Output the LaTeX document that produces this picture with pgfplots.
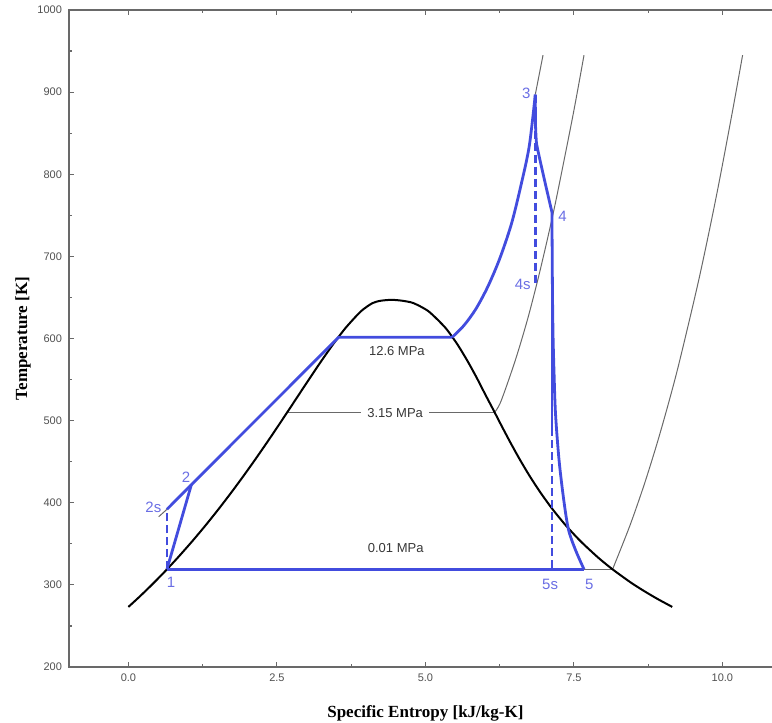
\documentclass[border=0pt]{standalone}
\usepackage{pgfplots}
\pgfplotsset{compat=1.18}
\usepackage{fontspec}
\setmainfont{Liberation Sans}
\newfontfamily\labelfont{Liberation Serif}
\definecolor{cycle}{RGB}{66,76,222}
\definecolor{ptlabel}{RGB}{106,110,228}
\definecolor{isobar}{RGB}{105,105,105}
\definecolor{frame}{RGB}{105,105,105}
\definecolor{ticktext}{RGB}{80,80,80}
\definecolor{ptext}{RGB}{55,55,55}

\begin{document}
\begin{tikzpicture}
\begin{axis}[
  name=ax, at={(0,0)}, anchor=south west,
  scale only axis, width=356.4pt, height=328.5pt,
  xmin=-1, xmax=11, ymin=200, ymax=1000,
  xtick={0,2.5,5,7.5,10}, minor x tick num=1,
  ytick={200,300,...,1000}, minor y tick num=1,
  tick align=inside,
  major tick length=2.5pt, minor tick length=1.5pt,
  axis line style={frame, line width=0.75pt},
  every tick/.style={frame, line width=0.6pt},
  ticklabel style={font=\fontsize{5.5}{6}\selectfont, text=ticktext},
  /pgf/number format/assume math mode=true,
  /pgf/number format/1000 sep={},
  xticklabel style={/pgf/number format/.cd, fixed, fixed zerofill, precision=1},
  xlabel={Specific Entropy [kJ/kg-K]},
  ylabel={Temperature [K]},
  label style={font=\labelfont\bfseries\fontsize{8.5}{10}\selectfont},
  xlabel style={at={(axis description cs:0.5,-0.07)}, anchor=center},
  ylabel style={at={(axis description cs:-0.0645,0.5)}, anchor=center, rotate=0},
]

% isobars (thin grey)
\addplot[isobar, line width=0.5pt] coordinates {(0.6493,318.96) (8.1502,318.96)};
\addplot[isobar, line width=0.5pt, smooth] coordinates {
  (8.1502,318.96) (8.1749,323.15) (8.4479,373.15) (8.6882,423.15) (8.9038,473.15)
  (9.1002,523.15) (9.2813,573.15) (9.6077,673.15) (9.8978,773.15) (10.1608,873.15) (10.34,945)};
\addplot[isobar, line width=0.5pt] coordinates {(2.68,509.6) (6.16,509.6)};
\addplot[isobar, line width=0.5pt, smooth] coordinates {
  (6.16,509.6) (6.27,523.15) (6.512,573.15) (6.719,623.15) (6.898,673.15)
  (7.061,723.15) (7.212,773.15) (7.488,873.15) (7.67,945)};
\addplot[isobar, line width=0.5pt] coordinates {(0.51,383) (0.649,392)};
\addplot[isobar, line width=0.5pt, smooth] coordinates {(6.85,897) (6.915,921) (6.98,945)};

% saturation dome
\addplot[black, line width=1pt, smooth, tension=0.4] coordinates {
  (0,273.16) (0.1511,283.15) (0.2966,293.15) (0.4369,303.15) (0.5725,313.15)
  (0.6493,318.96) (0.8312,333.15) (1.0753,353.15) (1.3069,373.15) (1.5276,393.15)
  (1.7391,413.15) (1.9427,433.15) (2.1396,453.15) (2.3309,473.15) (2.5178,493.15)
  (2.7015,513.15) (2.8838,533.15) (3.0668,553.15) (3.2534,573.15) (3.4480,593.15)
  (3.6594,613.15) (3.9147,633.15) (4.1106,643.15) (4.25,646.0) (4.4298,647.1)
  (4.61,646.0) (4.7971,643.15) (5.0526,633.15) (5.3357,613.15) (5.5362,593.15)
  (5.7045,573.15) (5.8571,553.15) (5.9989,533.15) (6.1437,513.15) (6.2861,493.15)
  (6.4323,473.15) (6.5857,453.15) (6.7502,433.15) (6.9299,413.15) (7.1296,393.15)
  (7.3549,373.15) (7.6122,353.15) (7.9096,333.15) (8.1502,318.96) (8.4520,303.15)
  (8.6672,293.15) (8.9008,283.15) (9.1562,273.16)};

% cycle
\addplot[cycle, line width=1.4pt] coordinates {(0.649,318.96) (7.67,318.96)};
\addplot[cycle, line width=1.4pt] coordinates {(0.649,318.96) (1.06,422)};
\addplot[cycle, line width=1.4pt, dash pattern=on 4pt off 2pt] coordinates {(0.649,318.96) (0.649,392)};
\addplot[cycle, line width=1.4pt] coordinates {(0.649,392) (1.06,422) (3.54,601.5) (5.45,601.5)};
\addplot[cycle, line width=1.4pt, smooth] coordinates {
  (5.45,601.5) (5.65,616) (5.85,636) (6.05,663) (6.25,697) (6.45,740)
  (6.62,790) (6.75,835) (6.85,897)};
\addplot[cycle, line width=1.4pt, smooth, tension=0.3] coordinates {
  (6.85,897) (6.853,862) (6.87,838) (6.93,817) (7.03,785) (7.13,754)};
\addplot[cycle, line width=1.4pt, dash pattern=on 4pt off 2pt] coordinates {(6.85,897) (6.85,666)};
\addplot[cycle, line width=1.4pt] coordinates {(7.13,754) (7.13,485)};
\addplot[cycle, line width=1.4pt, smooth] coordinates {
  (7.13,754) (7.135,700) (7.14,650) (7.15,600) (7.165,560) (7.19,509) (7.25,452)
  (7.33,403) (7.41,367) (7.53,342) (7.67,318.96)};
\addplot[cycle, line width=1.4pt, dash pattern=on 4pt off 2pt] coordinates {(7.13,754) (7.13,318.96)};

% pressure labels
\node[text=ptext, font=\fontsize{6.5}{7}\selectfont] at (axis cs:4.52,585) {12.6 MPa};
\node[text=ptext, fill=white, inner xsep=3pt, inner ysep=1pt, font=\fontsize{6.5}{7}\selectfont] at (axis cs:4.49,509.6) {3.15 MPa};
\node[text=ptext, font=\fontsize{6.5}{7}\selectfont] at (axis cs:4.5,345) {0.01 MPa};

% state labels
\begin{scope}[every node/.style={text=ptlabel, font=\fontsize{7.5}{8}\selectfont, inner sep=0pt}]
\node at (axis cs:6.70,898) {3};
\node at (axis cs:7.31,749) {4};
\node at (axis cs:6.64,666) {4s};
\node at (axis cs:0.97,431) {2};
\node at (axis cs:0.42,394) {2s};
\node at (axis cs:0.72,303) {1};
\node at (axis cs:7.10,300) {5s};
\node at (axis cs:7.76,300) {5};
\end{scope}
\end{axis}
\pgfresetboundingbox
\path[use as bounding box] (-34.5pt,-28pt) rectangle (351.5pt,333.5pt);
\end{tikzpicture}
\end{document}
